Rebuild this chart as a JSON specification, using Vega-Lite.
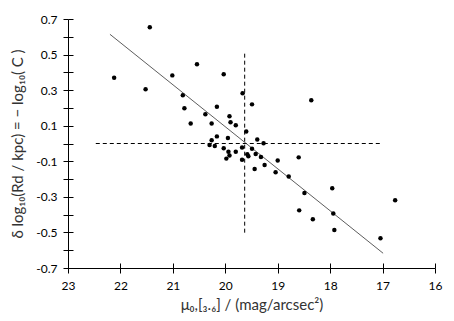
{
  "$schema": "https://vega.github.io/schema/vega-lite/v6.json",
  "width": 367,
  "height": 249,
  "autosize": {"type": "none"},
  "padding": {"left": 68, "top": 19, "right": 19, "bottom": 53},
  "background": "white",
  "config": {
    "view": {"stroke": null},
    "font": "Lato",
    "axis": {"grid": false, "domainColor": "black", "tickColor": "black", "labelColor": "black", "titleColor": "#333333", "labelFont": "Lato", "titleFont": "Lato", "labelFontSize": 12, "titleFontSize": 15, "titleFontWeight": "normal", "domainWidth": 1, "tickWidth": 1, "labelOverlap": false, "labelFlush": false, "labelBound": false}
  },
  "datasets": {
    "pts": [
      {"mu": 22.12, "d": 0.370}, {"mu": 21.44, "d": 0.653}, {"mu": 21.52, "d": 0.305},
      {"mu": 21.01, "d": 0.383}, {"mu": 20.54, "d": 0.445}, {"mu": 20.03, "d": 0.389},
      {"mu": 20.81, "d": 0.271}, {"mu": 20.78, "d": 0.198}, {"mu": 20.66, "d": 0.113},
      {"mu": 20.38, "d": 0.164}, {"mu": 20.16, "d": 0.207}, {"mu": 20.26, "d": 0.113},
      {"mu": 20.16, "d": 0.040}, {"mu": 20.26, "d": 0.018}, {"mu": 20.30, "d": -0.008},
      {"mu": 20.20, "d": -0.014}, {"mu": 19.95, "d": 0.031}, {"mu": 20.03, "d": -0.027},
      {"mu": 19.92, "d": 0.153}, {"mu": 19.90, "d": 0.119}, {"mu": 19.80, "d": 0.102},
      {"mu": 19.67, "d": 0.282}, {"mu": 19.49, "d": 0.220}, {"mu": 19.60, "d": 0.067},
      {"mu": 19.94, "d": -0.046}, {"mu": 19.92, "d": -0.067}, {"mu": 19.98, "d": -0.085},
      {"mu": 19.80, "d": -0.046}, {"mu": 19.68, "d": -0.022}, {"mu": 19.68, "d": -0.091},
      {"mu": 19.58, "d": -0.061}, {"mu": 19.56, "d": -0.072}, {"mu": 19.49, "d": -0.029},
      {"mu": 19.39, "d": 0.023}, {"mu": 19.27, "d": 0.001}, {"mu": 19.42, "d": -0.059},
      {"mu": 19.32, "d": -0.076}, {"mu": 19.44, "d": -0.143}, {"mu": 19.25, "d": -0.121},
      {"mu": 19.00, "d": -0.095}, {"mu": 19.04, "d": -0.162}, {"mu": 18.79, "d": -0.185},
      {"mu": 18.60, "d": -0.078}, {"mu": 18.49, "d": -0.278}, {"mu": 18.59, "d": -0.376},
      {"mu": 18.33, "d": -0.426}, {"mu": 18.36, "d": 0.243}, {"mu": 17.96, "d": -0.252},
      {"mu": 17.94, "d": -0.393}, {"mu": 17.92, "d": -0.486}, {"mu": 17.04, "d": -0.533},
      {"mu": 16.76, "d": -0.319}
    ],
    "fit": [{"mu": 22.2, "d": 0.614}, {"mu": 16.99, "d": -0.617}],
    "hline": [{"mu": 22.47, "d": 0}, {"mu": 17.05, "d": 0}],
    "vline": [{"mu": 19.63, "d": 0.505}, {"mu": 19.63, "d": -0.505}]
  },
  "resolve": {"axis": {"x": "independent", "y": "independent"}},
  "layer": [
    {
      "data": {"name": "hline"},
      "mark": {"type": "line", "color": "black", "strokeWidth": 1, "strokeDash": [4, 3]},
      "encoding": {
        "x": {"field": "mu", "type": "quantitative", "scale": {"domain": [16, 23], "reverse": true, "nice": false, "zero": false},
              "axis": {"orient": "bottom", "values": [23, 22, 21, 20, 19, 18, 17, 16], "format": "d", "tickSize": 5, "labelPadding": 7, "title": "μ₀,[₃.₆] / (mag/arcsec²)", "titlePadding": 6}},
        "y": {"field": "d", "type": "quantitative", "scale": {"domain": [-0.7, 0.7], "nice": false, "zero": false},
              "axis": {"orient": "left", "values": [-0.7, -0.6, -0.5, -0.4, -0.3, -0.2, -0.1, 0, 0.1, 0.2, 0.3, 0.4, 0.5, 0.6, 0.7],
                       "labelExpr": "abs(round(datum.value*10))%2==1 ? replace(format(datum.value, '.1f'), '−', '-') : ''",
                       "tickSize": 5, "labelPadding": 6, "title": "δ log₁₀(Rd / kpc) = − log₁₀( C )", "titlePadding": 10}}
      }
    },
    {
      "data": {"name": "vline"},
      "mark": {"type": "line", "color": "black", "strokeWidth": 1, "strokeDash": [4, 3]},
      "encoding": {
        "x": {"field": "mu", "type": "quantitative",
              "axis": {"orient": "bottom", "values": [23, 22, 21, 20, 19, 18, 17, 16], "tickSize": -5, "labels": false, "domain": false, "title": null, "offset": 0}},
        "y": {"field": "d", "type": "quantitative",
              "axis": {"orient": "left", "values": [-0.7, -0.6, -0.5, -0.4, -0.3, -0.2, -0.1, 0, 0.1, 0.2, 0.3, 0.4, 0.5, 0.6, 0.7], "tickSize": -5, "labels": false, "domain": false, "title": null, "offset": 0}}
      }
    },
    {
      "data": {"name": "fit"},
      "mark": {"type": "line", "color": "#333333", "strokeWidth": 0.8},
      "encoding": {
        "x": {"field": "mu", "type": "quantitative", "axis": null},
        "y": {"field": "d", "type": "quantitative", "axis": null}
      }
    },
    {
      "data": {"name": "pts"},
      "mark": {"type": "circle", "color": "black", "size": 20, "opacity": 1},
      "encoding": {
        "x": {"field": "mu", "type": "quantitative", "axis": null},
        "y": {"field": "d", "type": "quantitative", "axis": null}
      }
    }
  ]
}
